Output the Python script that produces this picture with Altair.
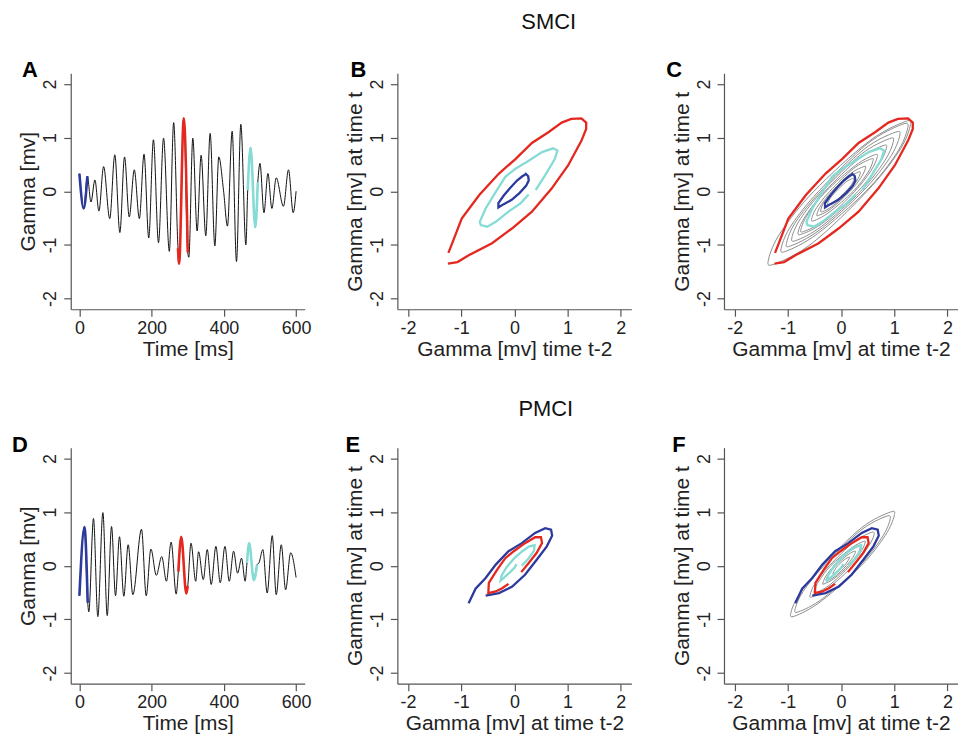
import altair as alt
import pandas as pd

FONT = "Liberation Sans"
BLUE = "#2b3a9c"
RED = "#e4281f"
CYAN = "#86dcd5"
GRAY = "#8c8c8c"
BLACK = "#111111"
AXC = "#555555"

W, H = 235, 237

# ---------------- Panel A (SMCI time series) ----------------
A_time = [0, 12, 22, 32, 43, 54, 67, 84, 98, 112, 125, 138, 152, 166, 179, 192, 205,
          219, 233, 249, 261, 273, 276, 289, 300, 303, 314, 326, 337, 350, 362, 375,
          386, 399, 410, 423, 435, 447, 461, 466, 474, 487, 494, 500, 511, 522, 533,
          545, 565, 579, 592, 600]
A_value = [0.33, -0.32, 0.28, -0.20, 0.21, -0.37, 0.46, -0.51, 0.68, -0.77, 0.64, -0.48,
           0.40, -0.51, 0.69, -0.87, 0.96, -0.96, 0.99, -1.12, 1.28, -1.06, -1.35, 1.36,
           -1.14, -1.23, 0.99, -0.74, 0.67, -0.83, 1.08, -1.02, 0.64, 0.02, -0.65, 1.12,
           -1.31, 1.25, -1.00, 0.02, 0.81, -0.67, 0.17, 0.52, -0.40, 0.33, -0.32, 0.25,
           -0.28, 0.40, -0.40, 0.00]
A_segments = [(0, 22, BLUE), (273, 300, RED), (466, 494, CYAN)]

# ---------------- Panel D (PMCI time series) ----------------
D_time = [0, 14, 23, 26, 39, 51, 65, 77, 89, 100, 111, 123, 135, 148, 172, 185, 198,
          213, 228, 241, 254, 268, 274, 282, 296, 300, 309, 322, 330, 343, 354, 365,
          378, 390, 403, 415, 427, 438, 449, 459, 464, 470, 483, 492, 497, 508, 520,
          534, 545, 559, 571, 585, 600]
D_value = [-0.56, 0.72, -0.69, -0.86, 0.88, -0.95, 0.99, -0.93, 0.73, -0.56, 0.54, -0.57,
           0.39, -0.54, 0.68, -0.56, 0.31, -0.18, 0.17, -0.29, 0.44, -0.53, -0.11, 0.54,
           -0.52, -0.38, 0.42, -0.29, 0.26, -0.26, 0.30, -0.35, 0.36, -0.32, 0.36, -0.29,
           0.27, -0.14, 0.14, -0.29, 0.05, 0.42, -0.27, 0.02, 0.05, 0.30, -0.51, 0.56,
           -0.54, 0.39, -0.45, 0.24, -0.22]
D_segments = [(0, 23, BLUE), (274, 300, RED), (464, 492, CYAN)]

# ---------------- Phase loops SMCI (B, C) ----------------
SMCI_red_x = [-1.24, -1.17, -0.99, -0.66, -0.29, 0.02, 0.33, 0.64, 0.89, 1.07, 1.26, 1.35,
              1.35, 1.26, 1.01, 0.70, 0.33, -0.04, -0.42, -0.85, -1.07, -1.25]
SMCI_red_y = [-1.15, -0.97, -0.51, -0.07, 0.33, 0.60, 0.90, 1.10, 1.28, 1.35, 1.36, 1.28,
              1.16, 0.94, 0.48, 0.05, -0.38, -0.69, -0.97, -1.19, -1.32, -1.35]
SMCI_cyan_x = [0.40, 0.58, 0.76, 0.81, 0.73, 0.52, 0.27, 0.02, -0.17, -0.35, -0.54, -0.65,
               -0.63, -0.51, -0.35, -0.11, 0.11, 0.27]
SMCI_cyan_y = [0.02, 0.30, 0.60, 0.76, 0.80, 0.73, 0.57, 0.42, 0.27, -0.01, -0.32, -0.57,
               -0.63, -0.66, -0.57, -0.38, -0.23, -0.06]
SMCI_blue_x = [0.20, 0.26, 0.27, 0.22, 0.10, -0.05, -0.20, -0.30, -0.30, -0.20, -0.08,
               0.05, 0.15, 0.22]
SMCI_blue_y = [0.34, 0.28, 0.20, 0.10, -0.03, -0.16, -0.24, -0.30, -0.22, -0.08, 0.06,
               0.20, 0.28, 0.32]
SMCI_gray_loops = [
    [(-0.51, 0), (0.51, 0.92), (1.21, 1.30), (1.30, 1.21), (1.08, 0.73), (0.49, 0), (-0.53, -0.96), (-1.26, -1.36), (-1.36, -1.26), (-1.13, -0.76)],
    [(-0.42, 0), (0.49, 0.88), (1.16, 1.25), (1.25, 1.16), (1.04, 0.70), (0.47, 0), (-0.44, -0.79), (-1.04, -1.12), (-1.12, -1.04), (-0.93, -0.63)],
    [(-0.38, 0), (0.43, 0.78), (1.02, 1.10), (1.10, 1.02), (0.91, 0.61), (0.41, 0), (-0.40, -0.72), (-0.95, -1.02), (-1.02, -0.95), (-0.85, -0.57)],
    [(-0.35, 0), (0.38, 0.69), (0.91, 0.98), (0.98, 0.91), (0.81, 0.55), (0.37, 0), (-0.36, -0.65), (-0.85, -0.92), (-0.92, -0.85), (-0.76, -0.51)],
    [(-0.30, 0), (0.33, 0.60), (0.79, 0.85), (0.85, 0.79), (0.70, 0.48), (0.32, 0), (-0.31, -0.57), (-0.74, -0.80), (-0.80, -0.74), (-0.66, -0.45)],
    [(-0.28, 0), (0.27, 0.48), (0.63, 0.68), (0.68, 0.63), (0.56, 0.38), (0.26, 0), (-0.29, -0.53), (-0.70, -0.75), (-0.75, -0.70), (-0.62, -0.42)],
    [(-0.21, 0), (0.23, 0.42), (0.56, 0.60), (0.60, 0.56), (0.50, 0.34), (0.23, 0), (-0.22, -0.39), (-0.51, -0.55), (-0.55, -0.51), (-0.46, -0.31)],
    [(-0.17, 0), (0.18, 0.33), (0.43, 0.46), (0.46, 0.43), (0.38, 0.26), (0.17, 0), (-0.18, -0.32), (-0.42, -0.45), (-0.45, -0.42), (-0.37, -0.25)],
    [(-0.14, 0), (0.14, 0.25), (0.33, 0.36), (0.36, 0.33), (0.30, 0.20), (0.14, 0), (-0.15, -0.27), (-0.35, -0.38), (-0.38, -0.35), (-0.32, -0.21)],
    [(-0.09, 0), (0.09, 0.17), (0.22, 0.24), (0.24, 0.22), (0.20, 0.13), (0.09, 0), (-0.10, -0.18), (-0.23, -0.25), (-0.25, -0.23), (-0.21, -0.14)],
]

# ---------------- Phase loops PMCI (E, F) ----------------
PMCI_blue_x = [-0.86, -0.73, -0.54, -0.35, -0.11, 0.14, 0.39, 0.58, 0.69, 0.71, 0.61, 0.42,
               0.20, -0.04, -0.29, -0.54]
PMCI_blue_y = [-0.70, -0.43, -0.23, 0.02, 0.27, 0.42, 0.61, 0.70, 0.67, 0.56, 0.36, 0.11,
               -0.17, -0.39, -0.51, -0.56]
PMCI_red_x = [0.13, 0.27, 0.42, 0.52, 0.50, 0.39, 0.20, -0.01, -0.17, -0.32, -0.48, -0.49,
              -0.35, -0.23, -0.11]
PMCI_red_y = [-0.12, 0.05, 0.24, 0.42, 0.53, 0.53, 0.42, 0.27, 0.14, -0.07, -0.32, -0.51,
              -0.48, -0.42, -0.34]
PMCI_cyan_x = [0.04, 0.01, -0.08, -0.18, -0.26, -0.24, -0.14, 0.00, 0.15, 0.28, 0.38, 0.37,
               0.27, 0.14]
PMCI_cyan_y = [0.03, -0.03, -0.12, -0.21, -0.28, -0.18, -0.02, 0.14, 0.27, 0.36, 0.38, 0.28,
               0.14, 0.00]
PMCI_gray_loops = [
    [(-0.35, 0), (0.39, 0.71), (0.93, 1.00), (1.00, 0.93), (0.83, 0.56), (0.38, 0), (-0.37, -0.66), (-0.87, -0.94), (-0.94, -0.87), (-0.78, -0.53)],
    [(-0.32, 0), (0.36, 0.65), (0.85, 0.92), (0.92, 0.85), (0.76, 0.51), (0.35, 0), (-0.34, -0.61), (-0.80, -0.86), (-0.86, -0.80), (-0.71, -0.48)],
    [(-0.22, 0), (0.24, 0.44), (0.57, 0.62), (0.62, 0.57), (0.51, 0.35), (0.23, 0), (-0.23, -0.41), (-0.54, -0.58), (-0.58, -0.54), (-0.48, -0.32)],
    [(-0.19, 0), (0.18, 0.32), (0.42, 0.45), (0.45, 0.42), (0.37, 0.25), (0.17, 0), (-0.20, -0.35), (-0.46, -0.50), (-0.50, -0.46), (-0.41, -0.28)],
    [(-0.13, 0), (0.14, 0.25), (0.33, 0.36), (0.36, 0.33), (0.30, 0.20), (0.14, 0), (-0.13, -0.24), (-0.32, -0.34), (-0.34, -0.32), (-0.28, -0.19)],
    [(-0.10, 0), (0.11, 0.19), (0.25, 0.27), (0.27, 0.25), (0.22, 0.15), (0.10, 0), (-0.11, -0.20), (-0.26, -0.28), (-0.28, -0.26), (-0.23, -0.16)],
    [(-0.06, 0), (0.06, 0.11), (0.15, 0.16), (0.16, 0.15), (0.13, 0.09), (0.06, 0), (-0.06, -0.11), (-0.14, -0.15), (-0.15, -0.14), (-0.12, -0.08)],
]

TICKS_PM2 = [-2, -1, 0, 1, 2]
TICKS_TIME = [0, 200, 400, 600]


def x_axis(title, values):
    return alt.Axis(title=title, values=values, labelExpr="'' + datum.value",
                    tickSize=7, labelPadding=3, titlePadding=1, grid=False)


def y_axis(title):
    return alt.Axis(title=title, values=TICKS_PM2, labelExpr="'' + datum.value",
                    tickSize=7, labelPadding=4, titlePadding=3, grid=False,
                    labelAngle=-90, labelAlign="center", labelBaseline="bottom")


def letter(text, dx):
    return alt.TitleParams(text=text, anchor="start", frame="group", fontSize=22,
                           fontWeight="bold", font=FONT, color="black", dx=dx, dy=31,
                           offset=0, baseline="bottom")


def time_panel(t, v, segments, let, dx):
    df = pd.DataFrame({"t": t, "v": v})
    x = alt.X("t:Q", scale=alt.Scale(domain=[-24, 624], nice=False, zero=False),
              axis=x_axis("Time [ms]", TICKS_TIME))
    y = alt.Y("v:Q", scale=alt.Scale(domain=[-2.2, 2.2], nice=False, zero=False),
              axis=y_axis("Gamma [mv]"))
    layers = [alt.Chart(df).mark_line(color=BLACK, strokeWidth=1, interpolate="monotone")
              .encode(x=x, y=y, order="t:Q")]
    for lo, hi, col in segments:
        sub = df[(df.t >= lo) & (df.t <= hi)]
        layers.append(alt.Chart(sub).mark_line(color=col, strokeWidth=2.6,
                                               interpolate="monotone")
                      .encode(x=x, y=y, order="t:Q"))
    return alt.layer(*layers).properties(width=W, height=H, title=letter(let, dx))


def phase_panel(loops, gray_loops, let, dx, xtitle):
    x = alt.X("x:Q", scale=alt.Scale(domain=[-2.2, 2.2], nice=False, zero=False),
              axis=x_axis(xtitle, TICKS_PM2))
    y = alt.Y("y:Q", scale=alt.Scale(domain=[-2.2, 2.2], nice=False, zero=False),
              axis=y_axis("Gamma [mv] at time t"))
    layers = []
    if gray_loops:
        rows = []
        for g, loop in enumerate(gray_loops):
            for i, (a, b) in enumerate(loop):
                rows.append({"x": a, "y": b, "i": i, "g": g})
        layers.append(alt.Chart(pd.DataFrame(rows))
                      .mark_line(color=GRAY, strokeWidth=1, interpolate="cardinal-closed")
                      .encode(x=x, y=y, detail="g:N", order="i:Q"))
    for xs, ys, col in loops:
        df = pd.DataFrame({"x": xs, "y": ys, "i": list(range(len(xs)))})
        layers.append(alt.Chart(df).mark_line(color=col, strokeWidth=2.3)
                      .encode(x=x, y=y, order="i:Q"))
    return alt.layer(*layers).properties(width=W, height=H, title=letter(let, dx))


smci_loops = [(SMCI_red_x, SMCI_red_y, RED), (SMCI_cyan_x, SMCI_cyan_y, CYAN),
              (SMCI_blue_x, SMCI_blue_y, BLUE)]
pmci_loops = [(PMCI_blue_x, PMCI_blue_y, BLUE), (PMCI_red_x, PMCI_red_y, RED),
              (PMCI_cyan_x, PMCI_cyan_y, CYAN)]

pA = time_panel(A_time, A_value, A_segments, "A", -49)
pB = phase_panel(smci_loops, None, "B", -47, "Gamma [mv] time t-2")
pC = phase_panel(smci_loops, SMCI_gray_loops, "C", -58, "Gamma [mv] at time t-2")
pD = time_panel(D_time, D_value, D_segments, "D", -59)
pE = phase_panel(pmci_loops, None, "E", -52, "Gamma [mv] at time t-2")
pF = phase_panel(pmci_loops, PMCI_gray_loops, "F", -52, "Gamma [mv] at time t-2")


def row_title(text, dx, offset):
    return alt.TitleParams(text=text, anchor="middle", frame="bounds", fontSize=22,
                           fontWeight="normal", font=FONT, color="#111111", dx=dx,
                           offset=offset)


row1 = alt.hconcat(pA, pB, pC, spacing=93, bounds="flush",
                   title=row_title("SMCI", 61, 25))
row2 = alt.hconcat(pD, pE, pF, spacing=93, bounds="flush",
                   title=row_title("PMCI", 61, 13))

chart = (alt.vconcat(row1, row2, spacing=39)
         .properties(padding={"left": 4, "top": 2, "right": 0, "bottom": 0})
         .configure_view(stroke=None)
         .configure_axis(labelFont=FONT, titleFont=FONT, labelFontSize=18,
                         titleFontSize=21, titleFontWeight="normal",
                         labelColor="#222222", titleColor="#222222",
                         domainColor=AXC, tickColor=AXC, domainWidth=1.2,
                         tickWidth=1.2))

chart.save("out.html", embed_options={"renderer": "svg", "actions": False})
